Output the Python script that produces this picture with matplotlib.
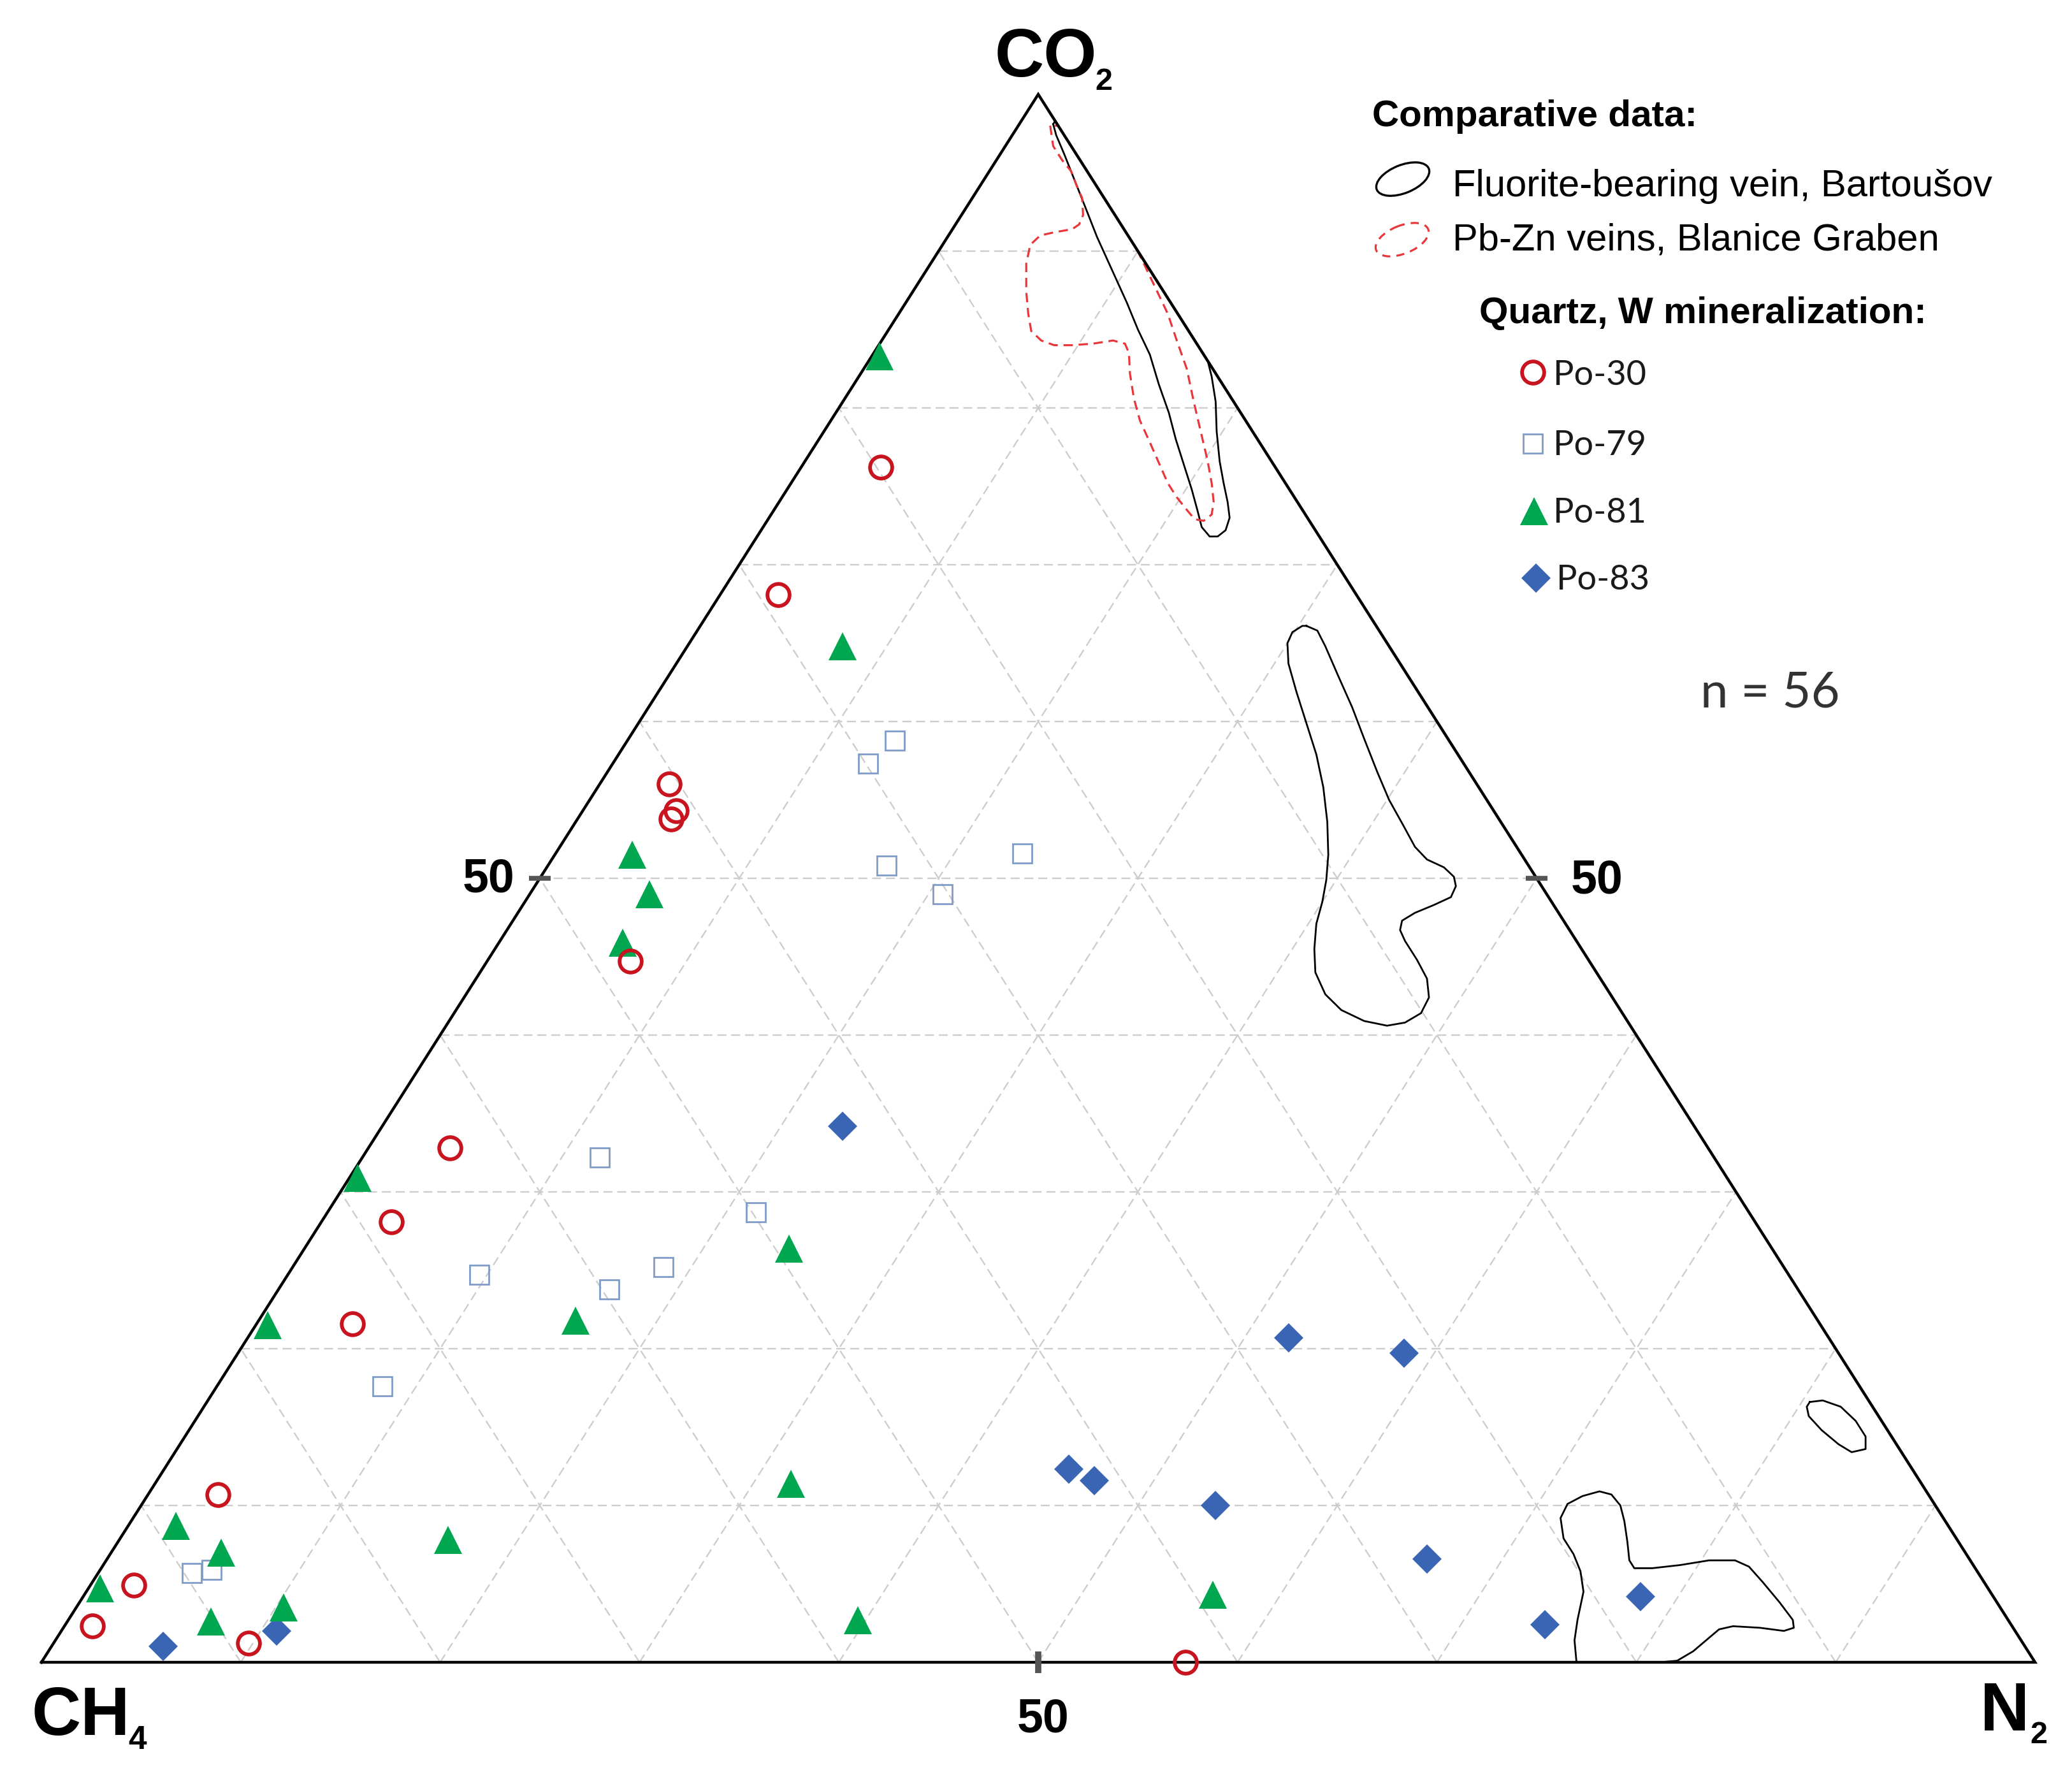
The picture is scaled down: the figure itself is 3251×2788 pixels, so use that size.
import numpy as np
import matplotlib
matplotlib.use("Agg")
import matplotlib.pyplot as plt
from matplotlib.patches import Ellipse

# ---------------- data (ternary %, CH4 = 100 - CO2 - N2) ----------------
po30_co2 = [76.2, 68.1, 56.0, 54.3, 53.8, 44.7, 32.8, 28.1, 21.6, 10.7, 4.9, 2.3, 1.2, 0.0]
po30_n2 = [4.0, 2.9, 3.5, 4.7, 4.7, 7.2, 4.1, 3.5, 4.8, 3.5, 2.2, 1.4, 9.8, 57.4]

po79_co2 = [58.8, 57.3, 51.6, 50.8, 49.0, 32.2, 28.7, 24.7, 23.8, 25.2, 17.6, 5.7, 5.9]
po79_n2 = [13.4, 12.8, 23.4, 17.0, 20.7, 11.9, 21.5, 9.6, 16.6, 18.6, 8.3, 4.7, 5.6]

po81_co2 = [83.3, 64.8, 51.5, 49.0, 45.9, 30.9, 26.4, 21.5, 21.8, 8.7, 7.0, 7.8, 11.4, 4.7, 2.6, 3.5, 2.7, 4.3]
po81_n2 = [0.4, 7.8, 3.9, 6.0, 6.2, 0.4, 24.3, 0.6, 15.9, 2.4, 5.5, 16.5, 31.9, 0.6, 7.2, 10.4, 39.6, 56.6]

po83_co2 = [34.2, 20.7, 19.7, 12.3, 11.6, 10.0, 6.6, 2.4, 4.2, 1.0, 2.0]
po83_n2 = [23.1, 52.2, 58.5, 45.4, 47.0, 53.9, 66.2, 74.2, 78.1, 5.6, 10.8]

# comparative fields (outline compositions CO2 / N2)
fluor1_co2 = [98.1, 97.4, 96.2, 94.6, 93.0, 90.9, 88.8, 86.7, 85.0, 83.4, 81.5, 79.7, 78.0, 76.4,
              74.8, 73.4, 72.4, 71.8, 71.8, 72.2, 73.0, 74.0, 75.2, 76.6, 78.5, 80.4, 82.0, 83.0, 98.3, 98.1]
fluor1_n2 = [1.7, 2.2, 3.2, 4.5, 5.8, 7.5, 9.3, 11.1, 12.5, 13.9, 15.3, 16.7, 17.9, 19.1,
             20.3, 21.3, 22.0, 22.7, 23.1, 23.3, 23.1, 22.5, 21.7, 20.8, 19.7, 18.7, 17.7, 17.0, 1.7, 1.7]

fluor2_co2 = [66.1, 65.8, 64.8, 62.9, 60.9, 58.9, 56.8, 55.0, 53.4, 52.0, 51.2, 50.7, 50.1, 49.5, 48.8,
              48.3, 47.8, 47.3, 46.7, 46.0, 44.8, 43.6, 42.4, 41.4, 40.8, 40.6, 40.9, 41.6, 42.6, 44.0,
              45.5, 47.1, 48.5, 49.9, 51.5, 53.6, 55.8, 57.9, 59.9, 61.9, 63.7, 65.0, 65.7, 66.1, 66.1]
fluor2_n2 = [30.4, 31.1, 32.0, 33.6, 35.3, 36.9, 38.6, 40.1, 41.6, 42.9, 43.9, 45.0, 45.8, 46.2, 46.3,
             45.7, 45.0, 44.6, 44.8, 45.4, 46.6, 47.7, 48.4, 48.5, 48.0, 47.2, 45.9, 44.4, 43.1, 41.9,
             41.1, 40.4, 40.0, 39.5, 38.8, 37.7, 36.4, 35.0, 33.5, 32.0, 30.7, 30.0, 29.9, 30.2, 30.4]

fluor3_co2 = [16.6, 16.7, 16.3, 15.4, 14.4, 13.6, 13.4, 13.9, 14.8, 15.7, 16.3, 16.6]
fluor3_n2 = [80.4, 81.0, 82.1, 83.3, 84.3, 84.7, 84.1, 83.2, 81.9, 80.8, 80.4, 80.4]

fluor4_co2 = [0.0, 1.4, 2.7, 4.5, 5.8, 6.9, 7.9, 9.2, 10.1, 10.6, 10.9, 10.7, 10.0, 9.0, 7.7, 6.5, 6.0,
              6.0, 6.2, 6.5, 6.5, 6.1, 5.1, 3.8, 2.7, 2.2, 2.0, 2.2, 2.3, 2.1, 1.4, 0.7, 0.1, 0.0]
fluor4_n2 = [77.0, 76.2, 75.7, 75.1, 74.3, 73.4, 72.4, 71.6, 71.5, 72.0, 72.7, 73.4, 74.2, 74.9, 75.7,
             76.4, 76.9, 77.8, 79.1, 80.4, 81.7, 82.6, 83.8, 85.3, 86.5, 86.8, 86.4, 85.1, 83.7, 83.1,
             82.8, 82.5, 82.0, 81.2]

pbzn_co2 = [98.0, 96.7, 95.8, 95.1, 94.1, 93.4, 92.3, 91.7, 91.4, 91.2, 91.0, 90.4, 89.2, 87.4, 86.0,
            84.9, 84.3, 84.0, 84.0, 84.1, 84.3, 84.1, 83.5, 82.2, 80.6, 79.2, 77.8, 76.5, 75.2, 74.3,
            73.5, 72.9, 72.8, 73.2, 74.0, 75.2, 76.6, 78.5, 80.4, 82.5, 84.3, 86.0, 87.6, 89.2, 90.2,
            98.0, 98.0]
pbzn_n2 = [1.6, 2.4, 3.3, 4.1, 4.9, 5.5, 6.1, 6.2, 6.0, 5.2, 4.6, 4.4, 4.8, 5.7, 6.5,
           7.2, 8.0, 8.8, 9.7, 10.7, 11.6, 12.3, 12.8, 13.5, 14.5, 15.5, 16.7, 17.8, 18.9, 19.8,
           20.7, 21.4, 21.9, 22.1, 21.8, 21.1, 20.2, 18.9, 17.6, 16.2, 14.8, 13.5, 12.1, 10.7, 9.8,
           2.0, 1.6]

grid_levels = [10, 20, 30, 40, 50, 60, 70, 80, 90]
tick_level = 50

series_labels = ["Po-30", "Po-79", "Po-81", "Po-83"]

# ---------------- figure ----------------
W, H, DPI = 3251, 2788, 100
fig = plt.figure(figsize=(W / DPI, H / DPI), dpi=DPI)
fig.patch.set_facecolor("white")

XL, XR, YB, YT = 65, 3193, 2608, 148
ax = fig.add_axes([XL / W, (H - YB) / H, (XR - XL) / W, (YB - YT) / H])
ax.set_xlim(0, 100)
ax.set_ylim(0, 100)
ax.axis("off")


def tern(co2, n2):
    co2 = np.asarray(co2, dtype=float)
    n2 = np.asarray(n2, dtype=float)
    return n2 + co2 / 2.0, co2


GRID_C = "#cdcdcd"
# grid lines
for k in grid_levels:
    x, y = tern([k, k], [0, 100 - k])            # constant CO2
    ax.plot(x, y, color=GRID_C, lw=1.7, dashes=(6.0, 3.2), zorder=1)
    x, y = tern([0, 100 - k], [k, k])            # constant N2
    ax.plot(x, y, color=GRID_C, lw=1.7, dashes=(6.0, 3.2), zorder=1)
    x, y = tern([0, 100 - k], [100 - k, 0])      # constant CH4
    ax.plot(x, y, color=GRID_C, lw=1.7, dashes=(6.0, 3.2), zorder=1)

# triangle frame
x, y = tern([0, 0, 100, 0], [0, 100, 0, 0])
ax.plot(x, y, color="black", lw=3.2, solid_joinstyle="miter", zorder=3, clip_on=False)

# 50 ticks
x, y = tern([tick_level], [0])
ax.plot(x, y, marker="_", ms=25, mew=5.5, color="#555555", zorder=3.5, clip_on=False)
x, y = tern([tick_level], [100 - tick_level])
ax.plot(x, y, marker="_", ms=24, mew=5.5, color="#555555", zorder=3.5, clip_on=False)
x, y = tern([0], [tick_level])
ax.plot(x, y, marker="|", ms=24, mew=7, color="#555555", zorder=3.5, clip_on=False)

# comparative fields
for cc, nn in [(fluor1_co2, fluor1_n2), (fluor2_co2, fluor2_n2),
               (fluor3_co2, fluor3_n2), (fluor4_co2, fluor4_n2)]:
    x, y = tern(cc, nn)
    ax.plot(x, y, color="black", lw=2.0, solid_joinstyle="round", zorder=2, clip_on=False)
x, y = tern(pbzn_co2, pbzn_n2)
ax.plot(x, y, color="#e8363a", lw=2.3, dashes=(4.6, 2.8), zorder=2.5, clip_on=False)

# data series
RED, SQ, GREEN, BLUE = "#c8141e", "#7f9cc8", "#00a650", "#3a64b4"
x, y = tern(po79_co2, po79_n2)
ax.plot(x, y, ls="none", marker="s", ms=22, mfc="none", mec=SQ, mew=2.0, zorder=5, clip_on=False)
x, y = tern(po83_co2, po83_n2)
ax.plot(x, y, ls="none", marker="D", ms=23, mfc=BLUE, mec=BLUE, mew=0, zorder=6, clip_on=False)
x, y = tern(po81_co2, po81_n2)
ax.plot(x, y, ls="none", marker="^", ms=32, mfc=GREEN, mec=GREEN, mew=0, zorder=7, clip_on=False)
x, y = tern(po30_co2, po30_n2)
ax.plot(x, y, ls="none", marker="o", ms=25, mfc="none", mec=RED, mew=4.2, zorder=8, clip_on=False)

# ---------------- overlay for labels and legend (pixel layout) ----------------
lax = fig.add_axes([0, 0, 1, 1], zorder=10)
lax.set_xlim(0, W)
lax.set_ylim(H, 0)
lax.axis("off")

ARIAL = "Liberation Sans"
CAL = "Lato"

# vertex labels
lax.text(1561, 120, "CO", fontsize=77, fontweight="bold", family=ARIAL, ha="left", va="baseline")
lax.text(1718, 141, "2", fontsize=35, fontweight="bold", family=ARIAL, ha="left", va="baseline")
lax.text(50, 2722, "CH", fontsize=77, fontweight="bold", family=ARIAL, ha="left", va="baseline")
lax.text(201, 2744, "4", fontsize=37, fontweight="bold", family=ARIAL, ha="left", va="baseline")
lax.text(3107, 2715, "N", fontsize=77, fontweight="bold", family=ARIAL, ha="left", va="baseline")
lax.text(3185, 2735, "2", fontsize=35, fontweight="bold", family=ARIAL, ha="left", va="baseline")

# 50 labels
lax.text(767, 1400, str(tick_level), fontsize=53, fontweight="bold", family=ARIAL, ha="center", va="baseline")
lax.text(2506, 1402, str(tick_level), fontsize=53, fontweight="bold", family=ARIAL, ha="center", va="baseline")
lax.text(1637, 2717, str(tick_level), fontsize=53, fontweight="bold", family=ARIAL, ha="center", va="baseline")

# legend: comparative data
lax.text(2153, 198, "Comparative data:", fontsize=42, fontweight="bold", family=ARIAL, ha="left", va="baseline")
lax.add_patch(Ellipse((2201, 281), 88, 44, angle=-22, fill=False, ec="black", lw=2.4))
lax.text(2279, 308, "Fluorite-bearing vein, Bartoušov", fontsize=43, family=ARIAL, ha="left", va="baseline")
lax.add_patch(Ellipse((2200, 376), 88, 44, angle=-22, fill=False, ec="#e8363a", lw=2.3,
                      linestyle=(0, (4, 3))))
lax.text(2279, 393, "Pb-Zn veins, Blanice Graben", fontsize=43, family=ARIAL, ha="left", va="baseline")

lax.text(2321, 507, "Quartz, W mineralization:", fontsize=42, fontweight="bold", family=ARIAL,
         ha="left", va="baseline")

leg_y = [584, 696, 802, 907]
leg_ty = [604, 714, 820, 925]
lax.plot([2405], [leg_y[0]], ls="none", marker="o", ms=25, mfc="none", mec=RED, mew=4.2)
lax.plot([2405], [leg_y[1]], ls="none", marker="s", ms=22, mfc="none", mec=SQ, mew=2.0)
lax.plot([2407], [leg_y[2]], ls="none", marker="^", ms=32, mfc=GREEN, mew=0)
lax.plot([2410], [leg_y[3]], ls="none", marker="D", ms=23, mfc=BLUE, mew=0)
for lab, ty, tx in zip(series_labels, leg_ty, [2437, 2437, 2437, 2442]):
    lax.text(tx, ty, lab, fontsize=39, family=CAL, color="#1a1a1a", ha="left", va="baseline")

lax.text(2668, 1110, "n = 56", fontsize=56, family=CAL, color="#333333", ha="left", va="baseline")

fig.savefig("out.png", dpi=DPI, facecolor="white")
